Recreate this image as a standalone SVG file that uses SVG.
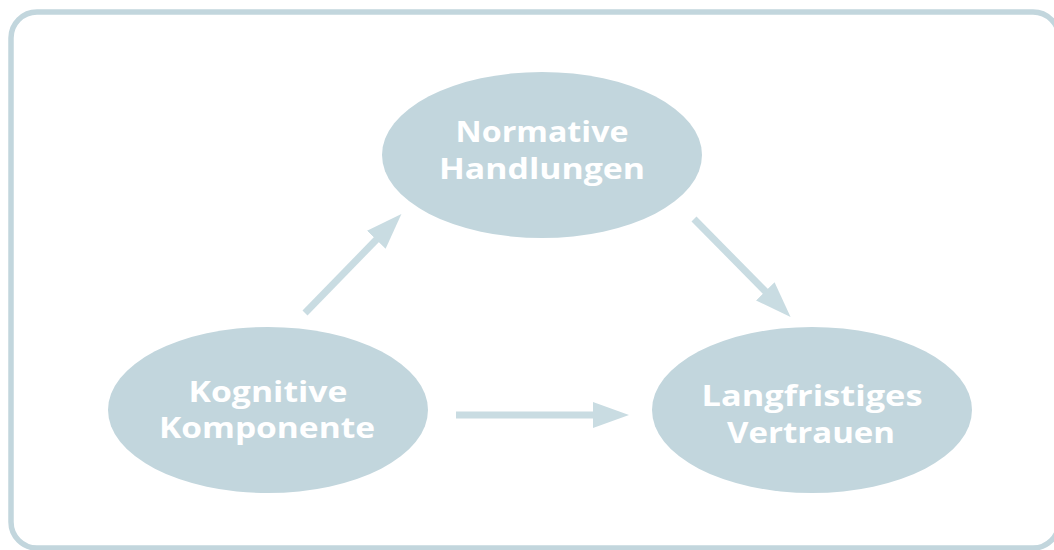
<svg xmlns="http://www.w3.org/2000/svg" width="1054" height="550" viewBox="0 0 1054 550">
  <style>
    .frame { fill: #ffffff; stroke: #c2d6dd; stroke-width: 5.5; }
    .node { fill: #c2d6dd; }
    .label { fill: #ffffff; font-family: "Open Sans", "Liberation Sans", sans-serif; font-weight: 700; font-size: 29px; text-anchor: middle; }
    .conn { stroke: #c9dce2; stroke-width: 7; fill: none; }
  </style>
  <defs>
    <marker id="head" markerUnits="userSpaceOnUse" markerWidth="36" markerHeight="26" refX="1" refY="13" orient="auto" viewBox="0 0 36 26">
      <path d="M0,0 L36,13 L0,26 Z" fill="#c9dce2"/>
    </marker>
  </defs>
  <rect width="1054" height="550" fill="#ffffff"/>
  <rect class="frame" x="11" y="12" width="1048" height="536" rx="26" ry="26"/>

  <g id="connectors">
    <line class="conn" x1="305" y1="313" x2="377" y2="239" marker-end="url(#head)"/>
    <line class="conn" x1="694" y1="219" x2="766" y2="292" marker-end="url(#head)"/>
    <line class="conn" x1="456" y1="415" x2="594" y2="415" marker-end="url(#head)"/>
  </g>

  <g id="node-normative">
    <ellipse class="node" cx="542" cy="155" rx="160" ry="83"/>
    <text class="label" x="542" y="142" textLength="173" lengthAdjust="spacingAndGlyphs">Normative</text>
    <text class="label" x="542" y="179" textLength="206" lengthAdjust="spacingAndGlyphs">Handlungen</text>
  </g>

  <g id="node-kognitive">
    <ellipse class="node" cx="268" cy="410" rx="160" ry="83"/>
    <text class="label" x="268" y="402" textLength="159" lengthAdjust="spacingAndGlyphs">Kognitive</text>
    <text class="label" x="267" y="438" textLength="216" lengthAdjust="spacingAndGlyphs">Komponente</text>
  </g>

  <g id="node-langfristiges">
    <ellipse class="node" cx="812" cy="410" rx="160" ry="83"/>
    <text class="label" x="812" y="406" textLength="221" lengthAdjust="spacingAndGlyphs">Langfristiges</text>
    <text class="label" x="811" y="443" textLength="168" lengthAdjust="spacingAndGlyphs">Vertrauen</text>
  </g>
</svg>
